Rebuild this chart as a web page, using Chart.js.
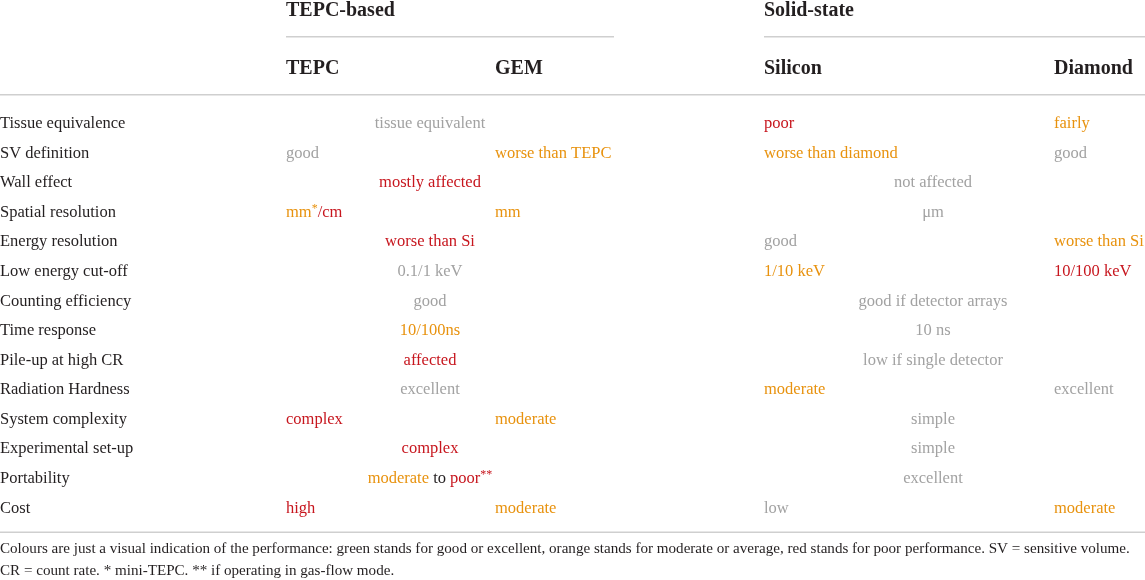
<!DOCTYPE html>
<html>
<head>
<meta charset="utf-8">
<script src="https://cdn.jsdelivr.net/npm/chart.js@4"></script>
<style>
  body { margin: 0; background: #fff; }
  #wrap { width: 1145px; height: 580px; position: relative; }
</style>
</head>
<body>
<div id="wrap"><canvas id="table"></canvas></div>
<script>
const groups = ["TEPC-based", "Solid-state"];
const detectors = ["TEPC", "GEM", "Silicon", "Diamond"];
const properties = [
  "Tissue equivalence", "SV definition", "Wall effect", "Spatial resolution",
  "Energy resolution", "Low energy cut-off", "Counting efficiency", "Time response",
  "Pile-up at high CR", "Radiation Hardness", "System complexity",
  "Experimental set-up", "Portability", "Cost"
];

// cell texts, "|" splits a cell into parts with their own rating
// null = merged into the cell on its left
const tepcText = ["tissue equivalent", "good", "mostly affected", "mm*|/cm", "worse than Si",
  "0.1/1 keV", "good", "10/100ns", "affected", "excellent", "complex", "complex",
  "moderate| to |poor**", "high"];
const tepcRating = ["good", "good", "poor", "moderate|poor", "poor", "good", "good",
  "moderate", "poor", "good", "poor", "poor", "moderate|plain|poor", "poor"];

const gemText = [null, "worse than TEPC", null, "mm", null, null, null, null, null, null,
  "moderate", null, null, "moderate"];
const gemRating = [null, "moderate", null, "moderate", null, null, null, null, null, null,
  "moderate", null, null, "moderate"];

const siliconText = ["poor", "worse than diamond", "not affected", "\u03bcm", "good",
  "1/10 keV", "good if detector arrays", "10 ns", "low if single detector", "moderate",
  "simple", "simple", "excellent", "low"];
const siliconRating = ["poor", "moderate", "good", "good", "good", "moderate", "good",
  "good", "good", "moderate", "good", "good", "good", "good"];

const diamondText = ["fairly", "good", null, null, "worse than Si", "10/100 keV", null,
  null, null, "excellent", null, null, null, "moderate"];
const diamondRating = ["moderate", "good", null, null, "moderate", "poor", null, null,
  null, "good", null, null, null, "moderate"];

const footnote = [
  "Colours are just a visual indication of the performance: green stands for good or excellent, orange stands for moderate or average, red stands for poor performance. SV = sensitive volume.",
  "CR = count rate. * mini-TEPC. ** if operating in gas-flow mode."
];

// layout
const colLeft = [286, 495, 764, 1054];
const spanCenter = [430, 933];
const ratingColor = { good: "#a2a2a2", moderate: "#e8920e", poor: "#c7161e", plain: "#231f20" };
const FONT = "'Liberation Serif', 'DejaVu Serif', serif";
const BODY_SIZE = 16.5;

const texts = [tepcText, gemText, siliconText, diamondText];
const ratings = [tepcRating, gemRating, siliconRating, diamondRating];

// work out each cell's anchor: left aligned in its column, centred if merged
function buildCells(c) {
  const pts = [];
  texts[c].forEach((t, i) => {
    if (t === null) return;
    const partner = c % 2 === 0 ? texts[c + 1][i] : "x";
    const merged = partner === null;
    pts.push({
      x: merged ? spanCenter[c >> 1] : colLeft[c],
      y: properties[i],
      parts: t.split("|"),
      rates: ratings[c][i].split("|"),
      align: merged ? "center" : "left"
    });
  });
  return pts;
}

function drawRich(ctx, parts, rates, x, y, align) {
  const normal = BODY_SIZE + "px " + FONT;
  const small = Math.round(BODY_SIZE * 0.7) + "px " + FONT;
  // split asterisks off as superscripts
  const runs = [];
  parts.forEach((p, k) => {
    const m = p.match(/^(.*?)(\**)$/);
    if (m[1]) runs.push({ t: m[1], f: normal, c: ratingColor[rates[k]], dy: 0 });
    if (m[2]) runs.push({ t: m[2], f: small, c: ratingColor[rates[k]], dy: -4 });
  });
  let total = 0;
  runs.forEach(r => { ctx.font = r.f; r.w = ctx.measureText(r.t).width; total += r.w; });
  let cx = align === "center" ? x - total / 2 : x;
  runs.forEach(r => {
    ctx.font = r.f;
    ctx.fillStyle = r.c;
    ctx.fillText(r.t, cx, y + r.dy);
    cx += r.w;
  });
}

const tablePlugin = {
  id: "tableText",
  afterDatasetsDraw(chart) {
    const ctx = chart.ctx;
    const y = chart.scales.y;
    const x = chart.scales.x;
    const row0 = y.getPixelForValue(0);
    const rowLast = y.getPixelForValue(properties.length - 1);
    const W = chart.width;
    ctx.save();
    ctx.textBaseline = "middle";
    ctx.textAlign = "left";

    // cells
    chart.data.datasets.forEach((ds, di) => {
      const meta = chart.getDatasetMeta(di);
      meta.data.forEach((el, j) => {
        const d = ds.data[j];
        drawRich(ctx, d.parts, d.rates, el.x, el.y, d.align);
      });
    });

    // header texts
    ctx.fillStyle = "#231f20";
    ctx.font = "bold 20px " + FONT;
    ctx.fillText(groups[0], x.getPixelForValue(colLeft[0]), row0 - 113);
    ctx.fillText(groups[1], x.getPixelForValue(colLeft[2]), row0 - 113);
    detectors.forEach((d, c) => ctx.fillText(d, x.getPixelForValue(colLeft[c]), row0 - 55));

    // rules
    ctx.strokeStyle = "#cfcfcf";
    ctx.lineWidth = 1.5;
    ctx.beginPath();
    ctx.moveTo(x.getPixelForValue(colLeft[0]), row0 - 87);
    ctx.lineTo(x.getPixelForValue(614), row0 - 87);
    ctx.moveTo(x.getPixelForValue(colLeft[2]), row0 - 87);
    ctx.lineTo(W, row0 - 87);
    ctx.moveTo(0, row0 - 29);
    ctx.lineTo(W, row0 - 29);
    ctx.moveTo(0, rowLast + 24);
    ctx.lineTo(W, rowLast + 24);
    ctx.stroke();

    // footnote
    ctx.fillStyle = "#231f20";
    ctx.font = "15.1px " + FONT;
    ctx.fillText(footnote[0], 0, rowLast + 41);
    ctx.fillText(footnote[1], 0, rowLast + 63);
    ctx.restore();
  }
};

const chart = new Chart(document.getElementById("table"), {
  type: "scatter",
  data: {
    datasets: detectors.map((d, c) => ({
      label: d,
      data: buildCells(c),
      pointRadius: 0,
      pointHoverRadius: 0
    }))
  },
  options: {
    responsive: true,
    maintainAspectRatio: false,
    animation: false,
    events: [],
    layout: { padding: { top: 109, bottom: 57, left: 0, right: 0 } },
    plugins: { legend: { display: false }, tooltip: { enabled: false } },
    scales: {
      x: { type: "linear", min: 0, max: 1145, display: false },
      y: {
        type: "category",
        labels: properties,
        offset: true,
        position: "left",
        afterFit(scale) { scale.width = 0; },
        grid: { display: false },
        border: { display: false },
        ticks: {
          mirror: true,
          padding: 0,
          color: "#231f20",
          font: { family: FONT, size: BODY_SIZE }
        }
      }
    }
  },
  plugins: [tablePlugin]
});
</script>
</body>
</html>
